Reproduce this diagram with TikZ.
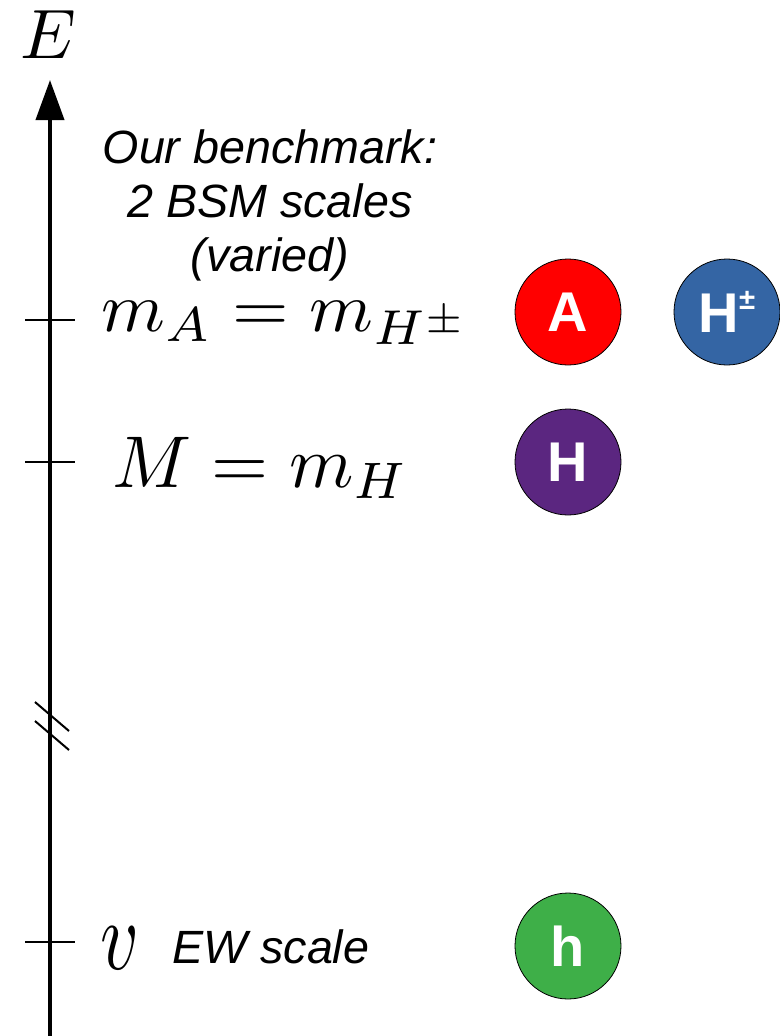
\documentclass[tikz,border=0pt]{standalone}
\usepackage{amsmath}
\usepackage{fontspec}
\setsansfont{Liberation Sans}
\usetikzlibrary{arrows.meta, positioning}

\definecolor{stateA}{HTML}{FF0000}
\definecolor{stateHpm}{HTML}{3465A4}
\definecolor{stateH}{HTML}{5B2680}
\definecolor{stateh}{HTML}{3EAF48}

\begin{document}
\begin{tikzpicture}[x=0.75pt, y=-0.75pt]
    \tikzset{
        energy axis/.style={line width=3pt, -{Triangle[length=30pt, width=21pt]}},
        scale tick/.style={line width=1.5pt},
        scale label/.style={inner sep=0pt, anchor=base west},
        side text/.style={font=\fontsize{35}{40.5}\selectfont\sffamily\itshape, inner sep=0pt},
        particle/.style={circle, draw=black, line width=0.6pt, minimum size=79.5pt, inner sep=0pt,
                text=white, font=\fontsize{42}{42}\selectfont\sffamily\bfseries}
    }
    \useasboundingbox (0,0) rectangle (779,1036);

    % energy axis
    \coordinate (axis bottom) at (50,1036);
    \coordinate (axis top) at (50,80);
    \draw[energy axis] (axis bottom) -- (axis top);
    \node (E label) at (48,35) {\scalebox{5.25}{$E$}};

    % ticks
    \foreach \name/\y in {heavy/320, mid/462, ew/942} {
        \coordinate (\name west) at (25,\y);
        \coordinate (\name east) at (75,\y);
        \draw[scale tick] (\name west) -- (\name east);
    }

    % axis break
    \draw[scale tick] (35,702) -- (69,731);
    \draw[scale tick] (35,721) -- (69,750);

    \node[side text, align=center] (benchmark) at (270,205) {Our benchmark:\\2 BSM scales\\(varied)};

    \node[scale label] (heavy label) at (101,331) {\scalebox{5.45}[5.25]{$m_A = m_{H^\pm}$}};
    \node[scale label] (mid label) at (112,487) {\scalebox{5.5}{$M = m_H$}};
    \node[scale label] (ew label) at (100,969) {\scalebox{5.6}[7.4]{$v$}};
    \node[side text, anchor=base west] (ew text) at (172,963) {EW scale};

    % particles
    \node[particle, fill=stateA] (A) at (568,312) {A};
    \node[particle, fill=stateHpm] (Hpm) at (727,312)
        {H\raisebox{0.42em}{\fontsize{22}{22}\selectfont ±}};
    \node[particle, fill=stateH] (H) at (568,462) {H};
    \node[particle, fill=stateh] (h) at (568,946) {h};
\end{tikzpicture}
\end{document}
